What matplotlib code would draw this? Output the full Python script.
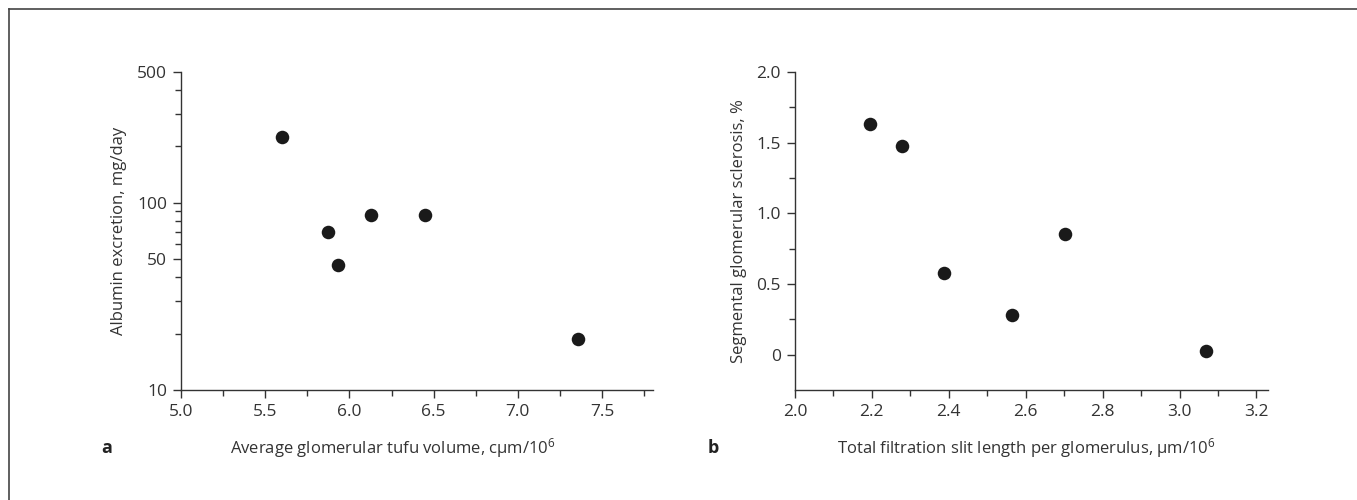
import matplotlib
matplotlib.use('Agg')
import matplotlib.pyplot as plt
from matplotlib.ticker import FixedLocator, FixedFormatter, NullFormatter, MultipleLocator
from matplotlib.lines import Line2D

plt.rcParams['font.family'] = ['Open Sans', 'DejaVu Sans']
plt.rcParams['mathtext.fontset'] = 'custom'
plt.rcParams['mathtext.rm'] = 'Open Sans'
plt.rcParams['mathtext.it'] = 'Open Sans'

# Panel a: glomerular tuft volume vs albumin excretion
tuft_volume = [5.60, 5.87, 5.93, 6.13, 6.45, 7.36]
albumin = [226, 69.5, 46.7, 86, 86, 18.8]
albumin_ticks = [10, 50, 100, 500]
albumin_minor = [20, 30, 40, 60, 70, 80, 90, 200, 300, 400]
volume_ticks = [5.0, 5.5, 6.0, 6.5, 7.0, 7.5]

# Panel b: filtration slit length vs segmental sclerosis
slit_length = [2.196, 2.279, 2.388, 2.565, 2.701, 3.069]
sclerosis = [1.634, 1.477, 0.577, 0.282, 0.857, 0.023]
slit_ticks = [2.0, 2.2, 2.4, 2.6, 2.8, 3.0, 3.2]
sclerosis_ticks = [0, 0.5, 1.0, 1.5, 2.0]
sclerosis_labels = ['0', '0.5', '1.0', '1.5', '2.0']

text_col = '#333333'
dot_col = '#1a1a1a'

fig = plt.figure(figsize=(13.57, 5.0), dpi=100)

# frame (top and left edges only)
fig.add_artist(Line2D([0.0066, 1.0], [0.982, 0.982], color='#444444', lw=1.2,
                      transform=fig.transFigure))
fig.add_artist(Line2D([0.0066, 0.0066], [0.0, 0.982], color='#444444', lw=1.2,
                      transform=fig.transFigure))


def style_axes(ax):
    for side in ['top', 'right']:
        ax.spines[side].set_visible(False)
    for side in ['left', 'bottom']:
        ax.spines[side].set_color(text_col)
        ax.spines[side].set_linewidth(1.0)
    ax.tick_params(which='major', direction='out', length=6, width=1.0,
                   colors=text_col, labelsize=12.5, labelcolor=text_col, pad=4)
    ax.tick_params(which='minor', direction='out', length=4, width=1.0,
                   colors=text_col)


# ---- panel a ----
ax1 = fig.add_axes([0.1334, 0.22, 0.3475, 0.636])
ax1.scatter(tuft_volume, albumin, s=95, color=dot_col, zorder=3, linewidths=0)
ax1.set_yscale('log')
ax1.set_ylim(10, 500)
ax1.set_xlim(5.0, 7.8)
ax1.yaxis.set_major_locator(FixedLocator(albumin_ticks))
ax1.yaxis.set_minor_locator(FixedLocator(albumin_minor))
ax1.yaxis.set_major_formatter(FixedFormatter([str(t) for t in albumin_ticks]))
ax1.yaxis.set_minor_formatter(NullFormatter())
ax1.set_xticks(volume_ticks)
ax1.set_xticklabels(['%.1f' % v for v in volume_ticks])
ax1.xaxis.set_minor_locator(MultipleLocator(0.25))
style_axes(ax1)
ax1.set_ylabel('Albumin excretion, mg/day', fontsize=12, color=text_col, labelpad=7)
ax1.set_xlabel('Average glomerular tufu volume, cμm/10$^{6}$', fontsize=12,
               color=text_col, labelpad=12, x=0.45)

# ---- panel b ----
ax2 = fig.add_axes([0.5858, 0.22, 0.3486, 0.636])
ax2.scatter(slit_length, sclerosis, s=95, color=dot_col, zorder=3, linewidths=0)
ax2.set_xlim(2.0, 3.23)
ax2.set_ylim(-0.25, 2.0)
ax2.set_xticks(slit_ticks)
ax2.set_xticklabels(['%.1f' % v for v in slit_ticks])
ax2.xaxis.set_minor_locator(MultipleLocator(0.1))
ax2.set_yticks(sclerosis_ticks)
ax2.set_yticklabels(sclerosis_labels)
ax2.yaxis.set_minor_locator(FixedLocator([0.25, 0.75, 1.25, 1.75]))
style_axes(ax2)
ax2.set_ylabel('Segmental glomerular sclerosis, %', fontsize=12, color=text_col, labelpad=7)
ax2.set_xlabel('Total filtration slit length per glomerulus, μm/10$^{6}$', fontsize=12,
               color=text_col, labelpad=12, x=0.49)

# panel letters
fig.text(107 / 1357, 1 - 448 / 500, 'a', fontsize=13, fontweight='bold',
         color='#222222', ha='center', va='center')
fig.text(713 / 1357, 1 - 448 / 500, 'b', fontsize=13, fontweight='bold',
         color='#222222', ha='center', va='center')

fig.savefig('out.png', dpi=100, facecolor='white')
